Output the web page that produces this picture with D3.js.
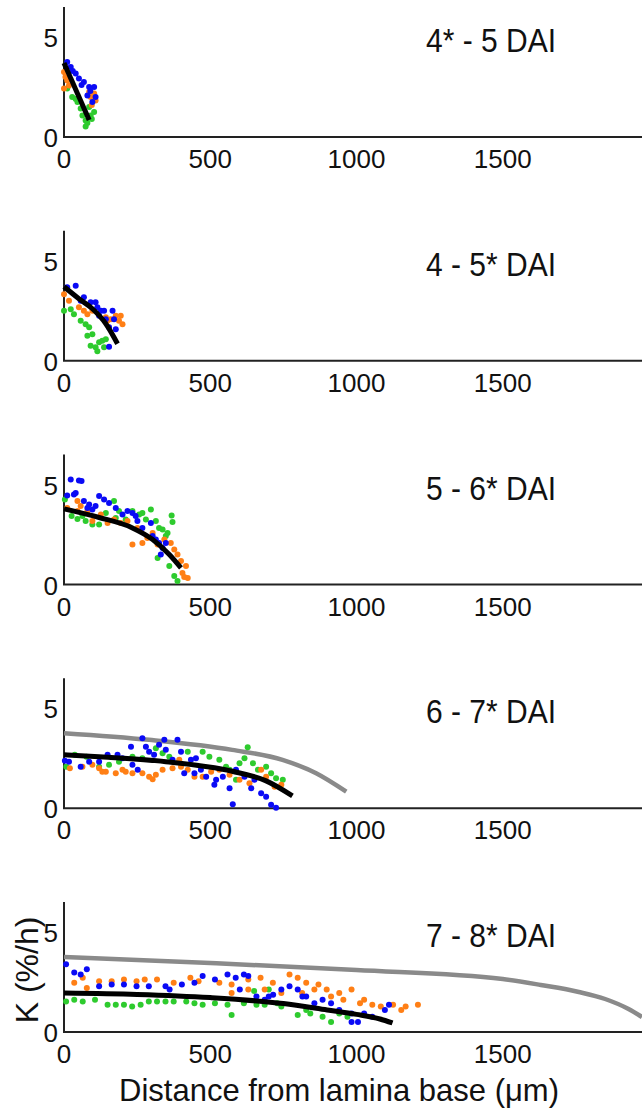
<!DOCTYPE html>
<html lang="en">
<head>
  <meta charset="UTF-8">
  <title>Relative growth rate K along the lamina</title>
  <script src="https://d3js.org/d3.v7.min.js"></script>
  <style>
    body {
      margin: 0;
      background: #fff;
      font-family: "Liberation Sans", Arial, sans-serif;
    }
    .tick-label { font-size: 26px; fill: #111; }
    .panel-title { font-size: 33px; fill: #111; }
    .axis-title { font-size: 32px; fill: #111; }
  </style>
</head>
<body>
  <div id="chart"></div>

  <script>
    const width = 642;
    const height = 1110;

    // panel labels
    const panelTitles = ["4* - 5 DAI", "4 - 5* DAI", "5 - 6* DAI", "6 - 7* DAI", "7 - 8* DAI"];
    const xTicks = [0, 500, 1000, 1500];
    const yTicks = [0, 5];

    // points: [distance (um), K (%/h)]
    const blue1 = [[11,3.75],[23,3.5],[30,3.3],[40,3.17],[51,2.92],[60,2.6],[68,2.75],[86,2.5],[103,2.5],[80,2.08],[97,1.75],[108,2.0],[90,2.3]];
    const orange1 = [[0,3.25],[5,3.0],[11,2.83],[0,2.42],[17,2.58],[86,2.25],[103,2.17],[91,2.0],[108,1.83],[95,1.6]];
    const green1 = [[11,2.42],[28,2.0],[40,1.9],[46,1.75],[57,1.42],[63,1.08],[74,0.83],[74,0.53],[80,0.7],[91,1.08],[95,0.9],[103,1.25],[86,1.5]];

    const blue2 = [[11,3.67],[40,3.75],[57,3.0],[68,3.17],[91,2.92],[108,2.92],[114,2.67],[126,2.5],[137,2.5],[166,2.5],[171,2.08],[154,1.67],[177,1.58],[154,0.7],[143,2.08],[120,2.25]];
    const orange2 = [[0,3.33],[17,3.0],[51,2.67],[68,2.5],[80,2.33],[97,2.5],[143,2.17],[160,2.08],[177,2.25],[194,2.25],[200,1.83],[188,2.0],[148,2.0]];
    const green2 = [[0,2.5],[23,2.58],[34,2.33],[57,2.0],[74,1.83],[86,1.67],[80,1.25],[97,1.33],[91,0.75],[108,0.67],[120,0.92],[131,1.0],[143,1.08],[114,0.47],[137,0.67]];

    const blue3 = [[11,4.45],[23,5.25],[34,4.5],[51,5.2],[60,5.17],[40,4.58],[68,4.17],[86,4.0],[108,3.92],[120,4.42],[137,4.25],[154,4.08],[177,3.83],[200,3.5],[217,3.67],[234,3.58],[245,3.42],[251,3.17],[268,2.83],[297,3.08],[303,2.42],[314,2.25],[325,2.08],[337,1.83],[348,2.08],[331,1.5],[80,3.83],[97,3.75]];
    const orange3 = [[11,3.83],[46,4.17],[57,3.92],[80,3.67],[97,3.17],[126,3.5],[149,3.08],[171,3.25],[194,3.08],[217,3.17],[234,2.0],[251,2.83],[268,2.08],[285,2.33],[303,2.58],[320,2.0],[343,2.25],[365,2.08],[377,1.75],[388,1.5],[400,1.17],[417,0.92],[405,0.58],[423,0.33],[411,0.38],[46,3.67]];
    const green3 = [[3,4.25],[26,3.42],[46,3.28],[63,3.42],[74,3.17],[97,3.0],[120,3.0],[143,3.58],[171,4.17],[177,3.33],[188,3.67],[211,3.25],[234,3.67],[257,3.5],[268,3.58],[280,3.25],[297,3.75],[314,3.17],[325,2.83],[337,2.75],[348,2.42],[354,2.58],[320,1.33],[360,0.92],[368,3.45],[371,3.12],[377,0.42],[388,0.17]];

    const blue4 = [[3,2.38],[17,2.33],[57,2.08],[86,2.33],[120,2.33],[149,2.67],[183,2.67],[200,2.5],[234,2.17],[229,3.08],[252,1.92],[268,3.5],[280,3.08],[291,2.83],[308,2.67],[325,3.17],[343,3.42],[348,2.92],[371,2.42],[388,3.42],[400,2.83],[411,1.75],[434,2.42],[451,2.5],[468,1.92],[486,1.58],[520,1.42],[514,1.17],[566,1.0],[577,0.2],[588,1.92],[617,1.58],[640,1.0],[651,1.42],[674,0.75],[691,0.58],[708,0.17],[725,0.03],[446,1.75],[543,1.58]];
    const orange4 = [[63,2.08],[97,2.17],[143,1.83],[177,1.75],[211,1.83],[234,1.75],[268,1.75],[291,1.58],[314,1.67],[337,1.92],[371,2.0],[400,2.08],[423,1.92],[446,1.58],[474,1.58],[503,1.83],[531,1.92],[566,1.67],[600,1.42],[634,1.25],[674,1.92],[691,1.58],[720,1.08],[743,1.17],[20,2.0],[120,2.0],[131,1.83],[200,1.92],[394,2.42],[303,1.45]];
    const green4 = [[8,2.08],[37,2.67],[77,2.58],[120,2.08],[154,2.17],[188,2.33],[234,2.58],[268,2.5],[314,3.0],[337,2.75],[360,2.58],[394,2.33],[423,2.83],[474,2.83],[497,2.58],[531,2.42],[566,1.92],[588,1.42],[617,2.5],[628,3.05],[646,2.25],[663,1.92],[691,2.08],[708,1.75],[725,1.5],[748,1.42],[600,2.25],[554,2.08]];

    const blue5 = [[7,3.39],[35,2.97],[78,3.14],[57,2.88],[120,2.29],[163,2.37],[205,2.37],[248,2.29],[290,2.29],[347,2.29],[361,2.12],[403,2.37],[446,2.46],[474,2.8],[516,2.63],[559,2.88],[587,2.71],[615,2.88],[630,2.8],[601,2.12],[658,1.78],[700,1.78],[743,2.12],[771,2.29],[799,2.12],[828,1.78],[884,1.61],[913,1.44],[941,1.1],[983,0.93],[1026,0.93],[1054,0.76],[1097,1.1],[1111,1.36],[983,0.5],[1005,0.5],[856,1.44],[815,1.78],[686,1.61],[715,1.86]];
    const orange5 = [[35,2.46],[64,2.71],[78,2.2],[120,2.54],[163,2.54],[205,2.63],[248,2.54],[276,2.63],[318,2.63],[375,2.46],[432,2.71],[460,2.54],[531,2.46],[573,2.37],[630,2.63],[672,2.71],[714,2.46],[771,2.88],[799,2.71],[828,2.46],[870,2.37],[898,2.12],[941,1.95],[983,2.12],[1026,1.61],[1054,1.36],[1125,1.36],[1168,1.27],[1210,1.36],[1153,1.1],[573,1.95],[686,2.12],[743,1.95],[814,1.95],[856,2.12],[913,1.78],[955,1.61],[1012,1.44],[1083,1.27],[630,2.12]];
    const green5 = [[7,1.53],[35,1.61],[64,1.53],[106,1.61],[149,1.36],[177,1.36],[205,1.36],[233,1.27],[262,1.36],[290,1.53],[318,1.53],[347,1.53],[375,1.53],[418,1.53],[446,1.44],[474,1.36],[516,1.44],[559,1.36],[573,0.85],[615,1.44],[658,1.36],[700,2.12],[686,1.36],[743,1.27],[799,0.85],[842,0.93],[884,0.76],[913,0.5],[941,0.93],[969,0.76],[729,1.44],[828,1.1],[650,2.05]];

    // fitted curves (black) and reference curves (grey)
    const fit1 = [[0,3.7],[86,0.85]];
    const fit2 = [[0,3.7],[51,3.1],[97,2.6],[143,1.85],[183,0.85]];
    const fit3 = [[0,3.78],[120,3.35],[234,2.83],[303,2.25],[360,1.5],[400,0.83]];
    const fit4 = [[0,2.67],[150,2.55],[348,2.33],[575,1.85],[689,1.38],[781,0.62]];
    const fit5 = [[0,1.95],[250,1.88],[500,1.72],[750,1.42],[900,1.1],[1000,0.88],[1080,0.65],[1123,0.45]];
    const ref4 = [[0,3.75],[291,3.42],[575,2.92],[747,2.42],[862,1.75],[965,0.83]];
    const ref5 = [[0,3.75],[500,3.45],[1000,3.1],[1500,2.65],[1630,2.35],[1760,2.0],[1850,1.65],[1930,1.15],[1976,0.75]];

    const panels = [
      { blue: blue1, orange: orange1, green: green1, fit: fit1, ref: null },
      { blue: blue2, orange: orange2, green: green2, fit: fit2, ref: null },
      { blue: blue3, orange: orange3, green: green3, fit: fit3, ref: null },
      { blue: blue4, orange: orange4, green: green4, fit: fit4, ref: ref4 },
      { blue: blue5, orange: orange5, green: green5, fit: fit5, ref: ref5 }
    ];

    const colors = { green: "#2ecb2e", orange: "#ff7f15", blue: "#0a0af5" };

    const svg = d3.select("#chart").append("svg")
      .attr("width", width)
      .attr("height", height);

    const x = d3.scaleLinear().domain([0, 1976]).range([64, 642]);
    const panelY = d3.scaleLinear().domain([0, 4]).range([137, 1032]);

    panels.forEach((p, i) => {
      const base = panelY(i);
      const y = d3.scaleLinear().domain([0, 6.5]).range([base, base - 130]);
      const g = svg.append("g");

      const line = d3.line()
        .x(d => x(d[0]))
        .y(d => y(d[1]))
        .curve(d3.curveMonotoneX);

      // axes
      g.append("line")
        .attr("x1", x(0)).attr("x2", x(0))
        .attr("y1", y(6.5)).attr("y2", y(0))
        .attr("stroke", "#222").attr("stroke-width", 2);
      g.append("line")
        .attr("x1", x(0) - 1).attr("x2", width)
        .attr("y1", y(0)).attr("y2", y(0))
        .attr("stroke", "#222").attr("stroke-width", 2);

      g.selectAll(".xt").data(xTicks).enter().append("text")
        .attr("class", "tick-label")
        .attr("x", d => x(d))
        .attr("y", base + 31)
        .attr("text-anchor", "middle")
        .text(d => d);

      g.selectAll(".yt").data(yTicks).enter().append("text")
        .attr("class", "tick-label")
        .attr("x", 58)
        .attr("y", d => y(d) + 10)
        .attr("text-anchor", "end")
        .text(d => d);

      if (p.ref) {
        g.append("path")
          .attr("d", line(p.ref))
          .attr("fill", "none")
          .attr("stroke", "#8a8a8a")
          .attr("stroke-width", 4.5);
      }

      ["green", "orange", "blue"].forEach(key => {
        g.selectAll(".dot-" + key).data(p[key]).enter().append("circle")
          .attr("cx", d => x(d[0]))
          .attr("cy", d => y(d[1]))
          .attr("r", 3)
          .attr("fill", colors[key]);
      });

      g.append("path")
        .attr("d", line(p.fit))
        .attr("fill", "none")
        .attr("stroke", "#000")
        .attr("stroke-width", 5);

      g.append("text")
        .attr("class", "panel-title")
        .attr("x", 426)
        .attr("y", base - 85)
        .attr("textLength", 130)
        .attr("lengthAdjust", "spacingAndGlyphs")
        .text(panelTitles[i]);
    });

    // axis titles
    svg.append("text")
      .attr("class", "axis-title")
      .attr("x", 119)
      .attr("y", 1101)
      .attr("textLength", 440)
      .attr("lengthAdjust", "spacingAndGlyphs")
      .text("Distance from lamina base (\u03bcm)");

    svg.append("text")
      .attr("class", "axis-title")
      .attr("transform", "translate(38,970) rotate(-90)")
      .attr("text-anchor", "middle")
      .text("K (%/h)");
  </script>
</body>
</html>
